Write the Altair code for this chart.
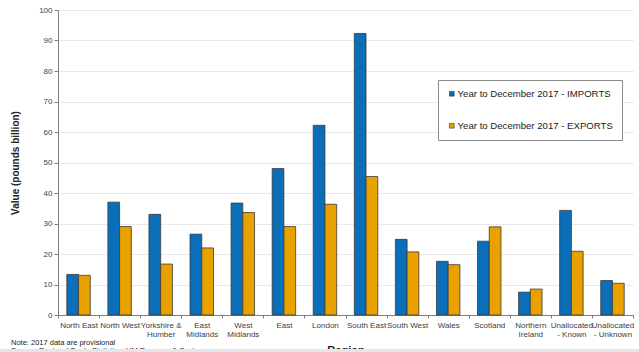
import altair as alt
import pandas as pd

regions = ["North East", "North West", "Yorkshire &\nHumber", "East\nMidlands",
           "West\nMidlands", "East", "London", "South East", "South West",
           "Wales", "Scotland", "Northern\nIreland", "Unallocated\n- Known",
           "Unallocated\n- Unknown"]
imports = [13.3, 37.0, 33.0, 26.5, 36.7, 48.0, 62.2, 92.3, 24.8, 17.6, 24.2, 7.5, 34.3, 11.3]
exports = [13.0, 29.0, 16.7, 22.0, 33.6, 29.0, 36.3, 45.4, 20.7, 16.5, 28.9, 8.5, 20.9, 10.4]
series = ["Year to December 2017 - IMPORTS", "Year to December 2017 - EXPORTS"]
colors = ["#0a6eb8", "#e9a100"]
y_ticks = list(range(0, 101, 10))

rows = []
for r, i, e in zip(regions, imports, exports):
    rows.append({"Region": r, "Series": series[0], "Value": i})
    rows.append({"Region": r, "Series": series[1], "Value": e})
df = pd.DataFrame(rows)

FONT = "Liberation Sans"

bars = alt.Chart(df).mark_bar(stroke="#3a3a3a", strokeWidth=0.8).encode(
    x=alt.X("Region:N", sort=regions,
            scale=alt.Scale(paddingInner=0, paddingOuter=0),
            axis=alt.Axis(title="Region", labelAngle=0, tickBand="extent",
                          labelExpr="split(datum.label, '\\n')",
                          labelFontSize=8, labelLineHeight=9, labelColor="#404040",
                          labelFont=FONT, labelPadding=3, tickSize=3,
                          tickColor="#7f7f7f", domainColor="#7f7f7f",
                          titleFont=FONT, titleFontSize=11, titleFontWeight="bold",
                          titleColor="#222222", titlePadding=6, grid=False)),
    xOffset=alt.XOffset("Series:N", sort=series,
                        scale=alt.Scale(paddingInner=0, paddingOuter=0.75)),
    y=alt.Y("Value:Q", scale=alt.Scale(domain=[0, 100], nice=False),
            axis=alt.Axis(title="Value (pounds billion)", values=y_ticks,
                          labelFontSize=8, labelColor="#404040", labelFont=FONT,
                          tickSize=4, tickColor="#7f7f7f", domainColor="#7f7f7f",
                          gridColor="#d4d4d4", gridDash=[1, 1],
                          titleFont=FONT, titleFontSize=10, titleFontWeight="bold",
                          titleColor="#222222", titlePadding=18)),
    color=alt.Color("Series:N", sort=series,
                    scale=alt.Scale(domain=series, range=colors),
                    legend=alt.Legend(title=None, orient="none", legendX=380, legendY=70,
                                      direction="vertical", symbolType="square",
                                      symbolSize=22, symbolStrokeColor="#333333",
                                      symbolStrokeWidth=0.6, labelLimit=0,
                                      labelFont=FONT, labelFontSize=9.6, labelColor="#222222",
                                      rowPadding=21, padding=9, strokeColor="#8a8a8a",
                                      fillColor="white", labelOffset=1)),
)

note = alt.Chart(pd.DataFrame({"t": ["Note: 2017 data are provisional"]})).mark_text(
    align="left", baseline="middle", fontSize=7.5, font=FONT, color="#222222"
).encode(x=alt.value(-47), y=alt.value(333), text="t:N")

source = alt.Chart(pd.DataFrame({"t": ["Source: Regional Trade Statistics, HM Revenue & Customs"]})).mark_text(
    align="left", baseline="middle", fontSize=7.5, font=FONT, color="#222222"
).encode(x=alt.value(-47), y=alt.value(341), text="t:N")

band = alt.Chart(pd.DataFrame({"a": [0]})).mark_rect(color="#e6e6e6").encode(
    x=alt.value(-58), x2=alt.value(581), y=alt.value(339), y2=alt.value(342))

chart = alt.layer(bars, note, source, band).properties(
    width=575, height=305,
    autosize=alt.AutoSizeParams(type="none"),
    padding={"left": 58, "top": 10, "right": 6, "bottom": 37},
    background="white",
).configure_view(stroke=None)

chart.save("out.html", embed_options={"renderer": "svg", "actions": False})
